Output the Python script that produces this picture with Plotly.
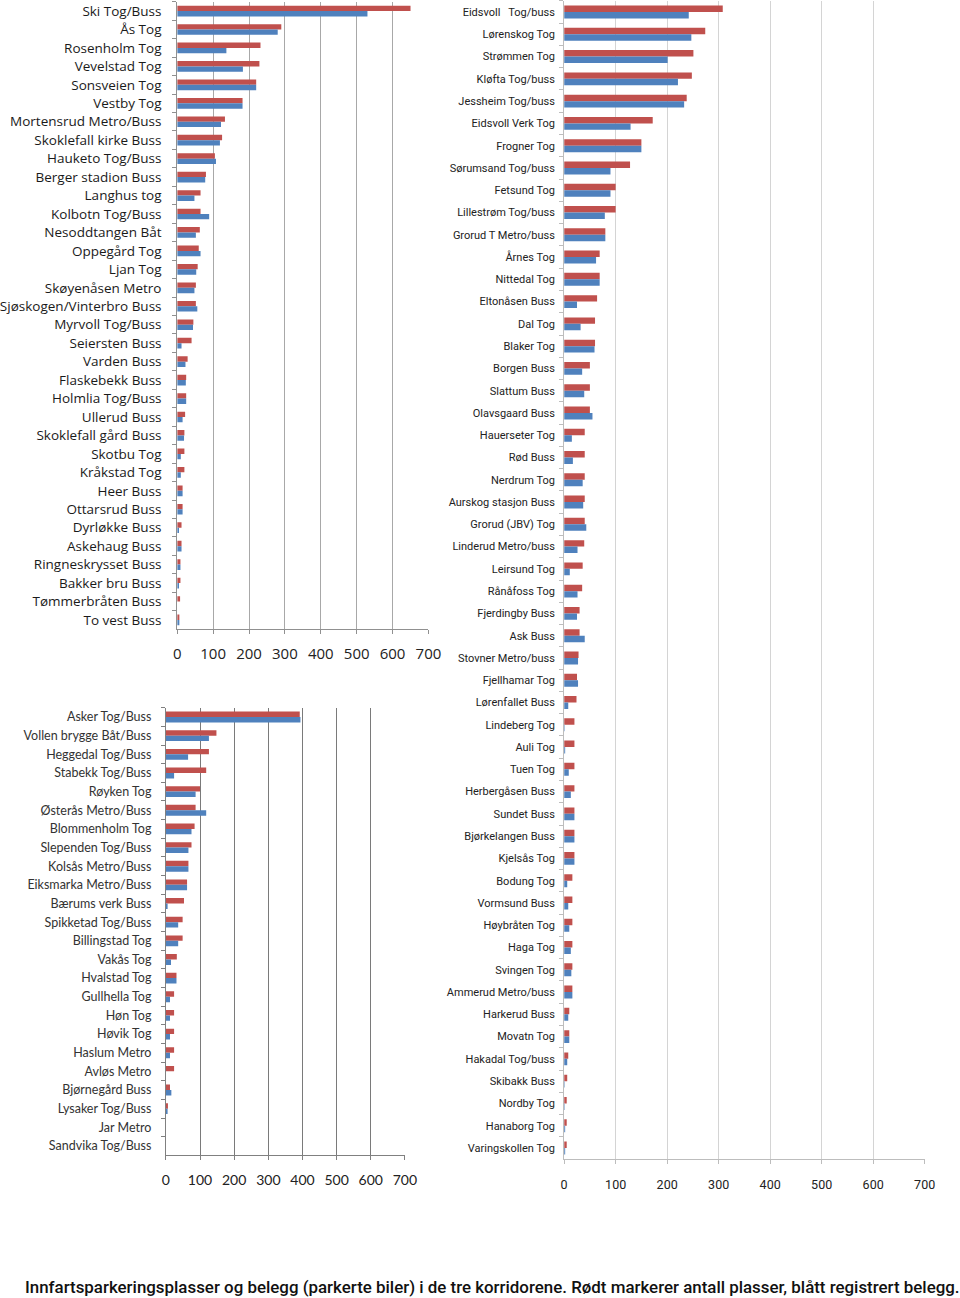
import plotly.graph_objects as go

RED = "#C0504D"
BLUE = "#4F81BD"

# Panel 1 (south corridor)
cat1 = ["Ski Tog/Buss", "Ås Tog", "Rosenholm Tog", "Vevelstad Tog", "Sonsveien Tog", "Vestby Tog",
        "Mortensrud Metro/Buss", "Skoklefall kirke Buss", "Hauketo Tog/Buss", "Berger stadion Buss",
        "Langhus tog", "Kolbotn Tog/Buss", "Nesoddtangen Båt", "Oppegård Tog", "Ljan Tog",
        "Skøyenåsen Metro", "Sjøskogen/Vinterbro Buss", "Myrvoll Tog/Buss", "Seiersten Buss",
        "Varden Buss", "Flaskebekk Buss", "Holmlia Tog/Buss", "Ullerud Buss", "Skoklefall gård Buss",
        "Skotbu Tog", "Kråkstad Tog", "Heer Buss", "Ottarsrud Buss", "Dyrløkke Buss", "Askehaug Buss",
        "Ringneskrysset Buss", "Bakker bru Buss", "Tømmerbråten Buss", "To vest Buss"]
plasser1 = [650, 290, 232, 229, 220, 182, 133, 125, 105, 80, 65, 65, 63, 60, 57, 52, 52, 45, 40,
            29, 25, 25, 22, 20, 20, 20, 15, 15, 12, 12, 9, 9, 8, 6]
belegg1 = [530, 280, 137, 183, 220, 182, 122, 119, 108, 78, 48, 89, 52, 65, 53, 48, 56, 44, 12,
           23, 24, 25, 15, 19, 10, 10, 15, 15, 5, 12, 9, 5, 0, 6]

# Panel 2 (west corridor)
cat2 = ["Asker Tog/Buss", "Vollen brygge Båt/Buss", "Heggedal Tog/Buss", "Stabekk Tog/Buss",
        "Røyken Tog", "Østerås Metro/Buss", "Blommenholm Tog", "Slependen Tog/Buss",
        "Kolsås Metro/Buss", "Eiksmarka Metro/Buss", "Bærums verk Buss", "Spikketad Tog/Buss",
        "Billingstad Tog", "Vakås Tog", "Hvalstad Tog", "Gullhella Tog", "Høn Tog", "Høvik Tog",
        "Haslum Metro", "Avløs Metro", "Bjørnegård Buss", "Lysaker Tog/Buss", "Jar Metro",
        "Sandvika Tog/Buss"]
plasser2 = [392, 148, 126, 118, 100, 87, 84, 75, 66, 62, 53, 49, 49, 32, 31, 24, 24, 24, 24, 24,
            12, 6, 0, 0]
belegg2 = [394, 126, 65, 24, 87, 118, 75, 66, 66, 62, 5, 36, 36, 15, 31, 12, 12, 12, 12, 0,
           16, 5, 0, 0]

# Panel 3 (north/east corridor)
cat3 = ["Eidsvoll   Tog/buss", "Lørenskog Tog", "Strømmen Tog", "Kløfta Tog/buss", "Jessheim Tog/buss",
        "Eidsvoll Verk Tog", "Frogner Tog", "Sørumsand Tog/buss", "Fetsund Tog", "Lillestrøm Tog/buss",
        "Grorud T Metro/buss", "Årnes Tog", "Nittedal Tog", "Eltonåsen Buss", "Dal Tog", "Blaker Tog",
        "Borgen Buss", "Slattum Buss", "Olavsgaard Buss", "Hauerseter Tog", "Rød Buss", "Nerdrum Tog",
        "Aurskog stasjon Buss", "Grorud (JBV) Tog", "Linderud Metro/buss", "Leirsund Tog",
        "Rånåfoss Tog", "Fjerdingby Buss", "Ask Buss", "Stovner Metro/buss", "Fjellhamar Tog",
        "Lørenfallet Buss", "Lindeberg Tog", "Auli Tog", "Tuen Tog", "Herbergåsen Buss",
        "Sundet Buss", "Bjørkelangen Buss", "Kjelsås Tog", "Bodung Tog", "Vormsund Buss",
        "Høybråten Tog", "Haga Tog", "Svingen Tog", "Ammerud Metro/buss", "Harkerud Buss",
        "Movatn Tog", "Hakadal Tog/buss", "Skibakk Buss", "Nordby Tog", "Hanaborg Tog",
        "Varingskollen Tog"]
plasser3 = [308, 274, 251, 248, 238, 172, 150, 128, 100, 100, 80, 69, 69, 64, 60, 60, 50, 50, 50,
            40, 40, 40, 40, 40, 39, 36, 35, 30, 30, 28, 25, 24, 20, 20, 20, 20, 20, 20, 20, 16,
            16, 16, 16, 16, 16, 10, 10, 8, 6, 5, 5, 5]
belegg3 = [242, 247, 201, 221, 233, 129, 150, 90, 90, 79, 80, 62, 69, 25, 32, 59, 35, 39, 55,
           15, 17, 36, 37, 43, 26, 11, 26, 25, 40, 27, 27, 8, 1, 2, 9, 13, 20, 20, 20, 6,
           8, 10, 13, 14, 16, 8, 10, 6, 1, 1, 2, 2]

xticks = [0, 100, 200, 300, 400, 500, 600, 700]

H = 1298.0
W = 960.0


def fx(px):
    # horizontal layout position as a paper fraction (compensates the page capture)
    return (px - 2.3) / 0.987 / W


def fy(px):
    return 1 - px / H


fig = go.Figure()

panels = [
    (cat1, plasser1, belegg1, "x", "y"),
    (cat2, plasser2, belegg2, "x2", "y2"),
    (cat3, plasser3, belegg3, "x3", "y3"),
]
for cats, pl, be, xa, ya in panels:
    fig.add_trace(go.Bar(y=cats, x=pl, orientation="h", marker_color=RED, xaxis=xa, yaxis=ya,
                         name="Plasser", showlegend=False, marker_line_width=0))
    fig.add_trace(go.Bar(y=cats, x=be, orientation="h", marker_color=BLUE, xaxis=xa, yaxis=ya,
                         name="Belegg", showlegend=False, marker_line_width=0))


def xax(domain, anchor, grid, fsize, family, standoff, linecol):
    return dict(domain=domain, anchor=anchor, range=[0, 700], tickvals=xticks,
                showgrid=True, gridcolor=grid, gridwidth=1, zeroline=False,
                showline=True, linecolor=linecol, linewidth=1, ticks="outside", ticklen=4,
                tickcolor=linecol, tickfont=dict(size=fsize, family=family, color="#222"),
                ticklabelstandoff=standoff, fixedrange=True)


def yax(domain, anchor, cats, fsize, family, standoff, linecol, color):
    n = len(cats)
    return dict(domain=domain, anchor=anchor, type="category", categoryorder="array",
                categoryarray=cats, range=[n - 0.5, -0.5], showgrid=False, zeroline=False,
                showline=True, linecolor=linecol, linewidth=1, ticks="outside", ticklen=4,
                tickson="boundaries", tickcolor=linecol,
                tickfont=dict(size=fsize, family=family, color=color),
                ticklabelstandoff=standoff, fixedrange=True)


fig.update_layout(
    width=960, height=1298, autosize=False,
    margin=dict(l=0, r=0, t=0, b=0),
    paper_bgcolor="white", plot_bgcolor="white",
    barmode="group", bargap=0.42, bargroupgap=0.0,
    xaxis=xax([fx(174.7), fx(427.7)], "y", "#a8a8a8", 15, "Open Sans", 7, "#909090"),
    yaxis=yax([fy(629.2), fy(1.8)], "x", cat1, 13.5, "Open Sans", 12, "#909090", "#1a1a1a"),
    xaxis2=xax([fx(163.3), fx(404.0)], "y2", "#7a7a7a", 14, "Lato", 8, "#808080"),
    yaxis2=yax([fy(1155.3), fy(707.7)], "x2", cat2, 12.5, "Lato", 11, "#808080", "#333333"),
    xaxis3=xax([fx(564.3), fx(927.3)], "y3", "#d4d4d4", 12.5, "Roboto", 10, "#bdbdbd"),
    yaxis3=yax([fy(1159.1), fy(0.9)], "x3", cat3, 11, "Roboto", 6, "#bdbdbd", "#222222"),
    annotations=[dict(
        text="Innfartsparkeringsplasser og belegg (parkerte biler) i de tre korridorene. "
             "Rødt markerer antall plasser, blått registrert belegg.",
        x=17 / W, y=fy(1287), xref="paper", yref="paper", xanchor="left", yanchor="middle",
        showarrow=False, font=dict(size=16.9, family="Roboto", color="#111", weight=500))],
)

fig.write_html("out.html", config={"displayModeBar": False, "staticPlot": True},
               post_script="document.body.style.margin='0';document.body.style.overflow='hidden';")
